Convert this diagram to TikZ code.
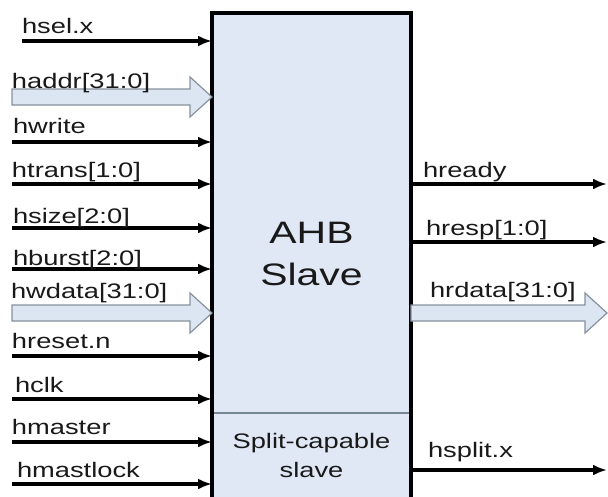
\documentclass[tikz,border=0pt]{standalone}
\usepackage{fontspec}
\setmainfont{Liberation Sans}
\usetikzlibrary{arrows.meta,calc}

\definecolor{boxfill}{RGB}{223,232,244}
\definecolor{busfill}{RGB}{220,230,242}
\definecolor{busline}{RGB}{135,145,158}
\definecolor{txt}{RGB}{25,25,25}
\definecolor{divline}{RGB}{120,135,150}

% wide bus arrow: from a free start point to a tip point
\newcommand\busarrow[2]{%
  \draw[bus] ($(#1)+(0,-8)$) -- ($(#2)+(-22,-8)$) -- ($(#2)+(-22,-20)$)
    -- (#2) -- ($(#2)+(-22,20)$) -- ($(#2)+(-22,8)$) -- ($(#1)+(0,8)$) -- cycle;}

\tikzset{
  lbl/.style={anchor=base west, inner sep=0pt, outer sep=0pt, text=txt,
    font=\fontsize{21}{25}\selectfont},
  title/.style={anchor=base, inner sep=0pt, outer sep=0pt, text=txt,
    font=\fontsize{31}{37}\selectfont},
  small/.style={anchor=base, inner sep=0pt, outer sep=0pt, text=txt,
    font=\fontsize{21}{25}\selectfont},
  sig/.style={line width=3.2pt, -{Latex[length=14pt,width=11pt]}},
  bus/.style={draw=busline, fill=busfill, line width=1.2pt, line join=miter},
  slavebox/.style={draw=black, fill=boxfill, line width=3.4pt, inner sep=0pt,
    outer sep=0pt, minimum width=199pt, minimum height=520pt, anchor=north west},
  divider/.style={draw=divline, line width=1.3pt}
}
\newcommand\wide[2][1.3]{\scalebox{#1}[1]{#2}}

\begin{document}
\begin{tikzpicture}[x=1pt,y=-1pt]
\useasboundingbox[fill=white] (0,0) rectangle (608,496);

% module body
\node[slavebox] (slave) at (212,13) {};
\coordinate (divy) at (0,413);
\draw[divider] ($(slave.west |- divy)+(1.7,0)$) -- ($(slave.east |- divy)+(-1.7,0)$);

\node[title] (ahb) at (311.5,243) {\wide[1.32]{AHB}};
\node[title] (slavetxt) at (311.5,285) {\wide[1.32]{Slave}};
\node[small] (split) at (311.5,448) {\wide{Split-capable}};
\node[small] (splitslave) at (311.5,477) {\wide{slave}};

% input signal start points
\coordinate (hsel-in)      at (22,41);
\coordinate (haddr-in)     at (12,97);
\coordinate (hwrite-in)    at (12,142);
\coordinate (htrans-in)    at (12,184);
\coordinate (hsize-in)     at (12,228);
\coordinate (hburst-in)    at (12,269);
\coordinate (hwdata-in)    at (12,313);
\coordinate (hreset-in)    at (12,356);
\coordinate (hclk-in)      at (12,399);
\coordinate (hmaster-in)   at (12,442);
\coordinate (hmastlock-in) at (12,484);

\foreach \s in {hsel,hwrite,htrans,hsize,hburst,hreset,hclk,hmaster,hmastlock}
  \draw[sig] (\s-in) -- (\s-in -| slave.west);

\coordinate (haddr-tip) at (haddr-in -| slave.west);
\coordinate (hwdata-tip) at (hwdata-in -| slave.west);
\busarrow{haddr-in}{haddr-tip}
\busarrow{hwdata-in}{hwdata-tip}

% input labels
\node[lbl] (l-hsel)      at (22,33)  {\wide{hsel.x}};
\node[lbl] (l-haddr)     at (12,88)  {\wide{haddr[31:0]}};
\node[lbl] (l-hwrite)    at (13,133) {\wide{hwrite}};
\node[lbl] (l-htrans)    at (12,177) {\wide{htrans[1:0]}};
\node[lbl] (l-hsize)     at (13,223) {\wide{hsize[2:0]}};
\node[lbl] (l-hburst)    at (13,265) {\wide{hburst[2:0]}};
\node[lbl] (l-hwdata)    at (11,298) {\wide{hwdata[31:0]}};
\node[lbl] (l-hreset)    at (12,348) {\wide{hreset.n}};
\node[lbl] (l-hclk)      at (15,392) {\wide{hclk}};
\node[lbl] (l-hmaster)   at (12,434) {\wide{hmaster}};
\node[lbl] (l-hmastlock) at (17,477) {\wide{hmastlock}};

% output signals
\coordinate (hready-out) at (607,184);
\coordinate (hresp-out)  at (607,242);
\coordinate (hsplit-out) at (607,470);
\coordinate (hrdata-out) at (607,313);
\foreach \s in {hready,hresp,hsplit}
  \draw[sig] (\s-out -| slave.east) -- (\s-out);
\coordinate (hrdata-from) at (hrdata-out -| slave.east);
\busarrow{hrdata-from}{hrdata-out}

\node[lbl] (l-hready)  at (423,177) {\wide{hready}};
\node[lbl] (l-hresp)   at (426,235) {\wide{hresp[1:0]}};
\node[lbl] (l-hrdata)  at (430,297) {\wide{hrdata[31:0]}};
\node[lbl] (l-hsplit)  at (428,457) {\wide{hsplit.x}};
\end{tikzpicture}
\end{document}
